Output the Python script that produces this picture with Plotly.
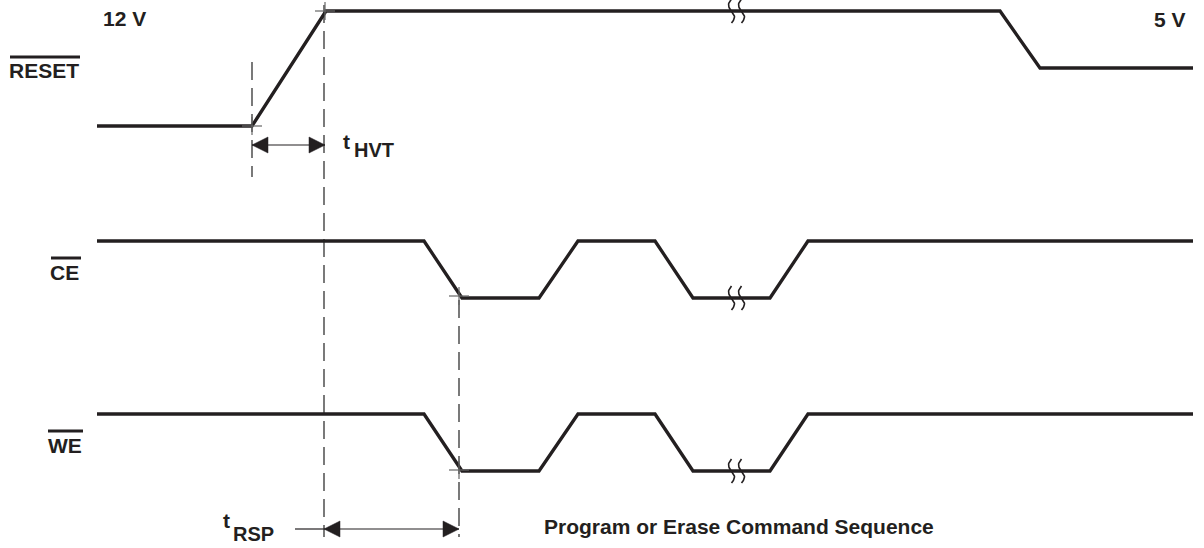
import numpy as np
import plotly.graph_objects as go

# ---- data (diagram coordinates: x = time units, y = vertical diagram units) ----
signal_names = ["RESET", "CE", "WE"]
reset_t = [97, 252, 326, 1000, 1040, 1193]
reset_lvl = [126, 126, 11, 11, 68, 68]
ce_t = [97, 424, 462, 539, 578, 655, 693, 770, 808, 1193]
ce_lvl = [241, 241, 298, 298, 241, 241, 298, 298, 241, 241]
we_t = [97, 424, 462, 539, 578, 655, 693, 770, 808, 1193]
we_lvl = [414, 414, 471, 471, 414, 414, 471, 471, 414, 414]

# break marks (x position, level)
breaks_x = [736.5, 736.5, 736.5]
breaks_y = [11, 298, 471]

# reference markers (timing crosses)
cross_x = [252, 325, 459, 459]
cross_y = [126, 11, 296, 470]

# dashed timing guides: x, y_start, y_end
guide_x = [252, 324, 459]
guide_y0 = [62, 5, 300]
guide_y1 = [177, 537, 537]

# timing arrows: x_start, x_end, y
arrow_x0 = [252, 324]
arrow_x1 = [325, 459]
arrow_y = [145, 529]

INK = "#231f20"
FONT = "Liberation Sans, Arial, sans-serif"

fig = go.Figure()

for t, lv in [(reset_t, reset_lvl), (ce_t, ce_lvl), (we_t, we_lvl)]:
    fig.add_trace(go.Scatter(x=t, y=lv, mode="lines",
                             line=dict(color=INK, width=3.3),
                             hoverinfo="skip", showlegend=False))

# dashed guides
for gx, a, b in zip(guide_x, guide_y0, guide_y1):
    fig.add_trace(go.Scatter(x=[gx, gx], y=[a, b], mode="lines",
                             line=dict(color="#222222", width=1.2, dash="18px,8px"),
                             hoverinfo="skip", showlegend=False))

# crosses
for cx, cy in zip(cross_x, cross_y):
    fig.add_trace(go.Scatter(x=[cx - 10, cx + 10, None, cx, cx], y=[cy, cy, None, cy - 9, cy + 9],
                             mode="lines", line=dict(color="#666666", width=1.2),
                             hoverinfo="skip", showlegend=False))

# break marks (two S curves)
tt = np.linspace(0, 1, 25)
for bx, by in zip(breaks_x, breaks_y):
    for off in (-5, 5):
        xs = bx + off - 3.0 * np.sin(2 * np.pi * tt)
        ys = by - 12 + 24 * tt
        fig.add_trace(go.Scatter(x=xs, y=ys, mode="lines",
                                 line=dict(color=INK, width=1.6),
                                 hoverinfo="skip", showlegend=False))

# timing arrows
for x0, x1, ay in zip(arrow_x0, arrow_x1, arrow_y):
    fig.add_trace(go.Scatter(x=[x0, x1], y=[ay, ay], mode="lines",
                             line=dict(color=INK, width=1.2),
                             hoverinfo="skip", showlegend=False))
    for tip, d in ((x0, 1), (x1, -1)):
        fig.add_trace(go.Scatter(x=[tip, tip + 16 * d, tip + 16 * d, tip],
                                 y=[ay, ay - 8, ay + 8, ay], mode="lines",
                                 fill="toself", fillcolor=INK,
                                 line=dict(color=INK, width=0.5),
                                 hoverinfo="skip", showlegend=False))
# leader for tRSP
fig.add_trace(go.Scatter(x=[295, arrow_x0[1]], y=[arrow_y[1], arrow_y[1]], mode="lines",
                         line=dict(color=INK, width=1.2), hoverinfo="skip", showlegend=False))

annotations = []
def txt(x, y, s, size=21, xanchor="left"):
    annotations.append(dict(x=x, y=y, xref="x", yref="y", text="<b>%s</b>" % s,
                            showarrow=False, xanchor=xanchor, yanchor="middle",
                            font=dict(family=FONT, size=size, color=INK)))

txt(101, 18, "12 V")
txt(1188, 19, "5 V", xanchor="right")
txt(81, 70, "RESET", xanchor="right")
txt(81, 272, "CE", xanchor="right")
txt(84, 445, "WE", xanchor="right")
txt(341, 141, "t", size=21)
txt(352, 150, "HVT", size=20)
txt(221, 520, "t", size=21)
txt(231, 534, "RSP", size=20)
txt(739, 526, "Program or Erase Command Sequence", size=21, xanchor="center")

# overlines for active-low signal names
overlines = [(10, 80, 57), (51, 81, 258), (48, 83, 431)]
for a, b, y in overlines:
    fig.add_trace(go.Scatter(x=[a, b], y=[y, y], mode="lines",
                             line=dict(color=INK, width=3),
                             hoverinfo="skip", showlegend=False))

fig.update_layout(
    width=1204, height=548,
    margin=dict(l=0, r=0, t=0, b=0),
    paper_bgcolor="white", plot_bgcolor="white",
    xaxis=dict(range=[0, 1204], visible=False, fixedrange=True),
    yaxis=dict(range=[548, 0], visible=False, fixedrange=True),
    annotations=annotations,
    showlegend=False,
)

fig.write_html("out.html", config={"displayModeBar": False},
               post_script="document.body.style.margin='0';document.body.style.overflow='hidden';")
